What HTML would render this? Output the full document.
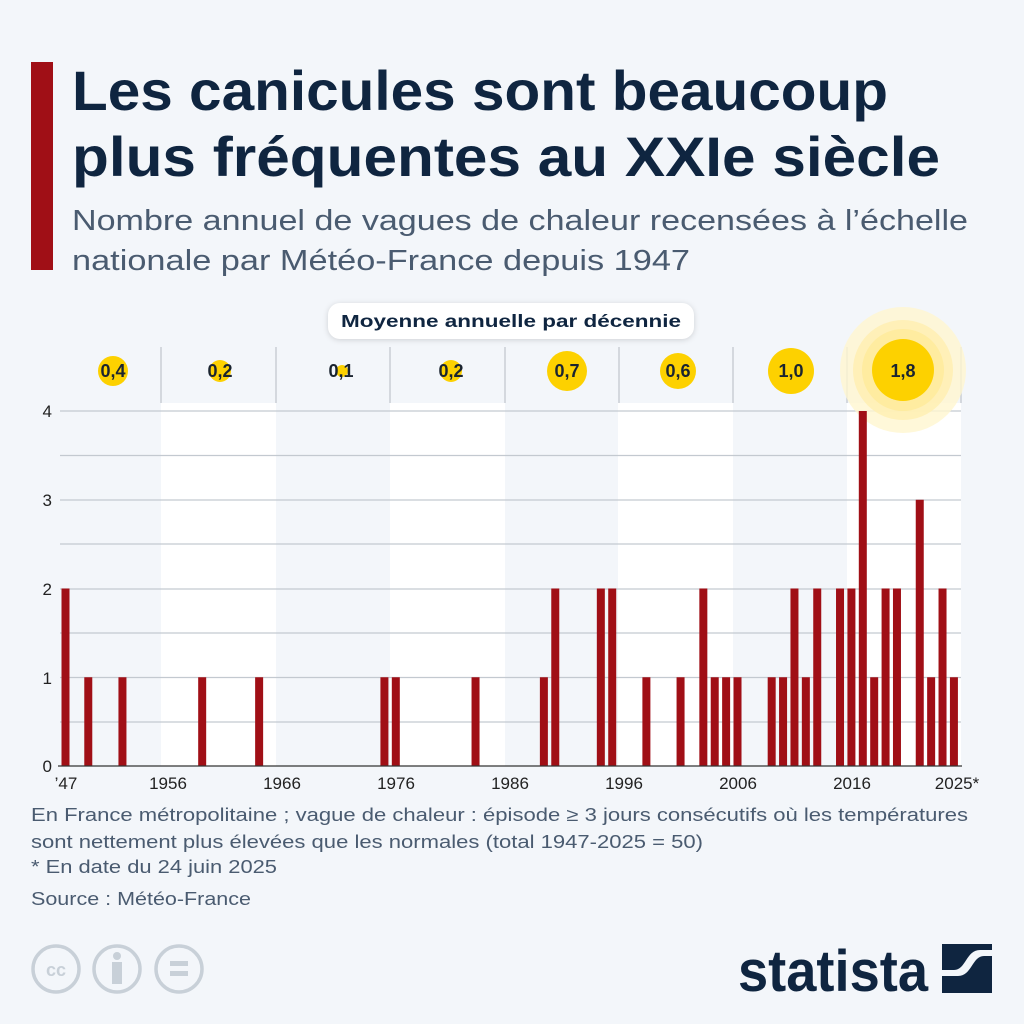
<!DOCTYPE html><html><head><meta charset="utf-8"><style>
body{margin:0;width:1024px;height:1024px;background:#f3f6fa;font-family:"Liberation Sans",sans-serif;position:relative;overflow:hidden}
</style></head><body>
<svg width="1024" height="1024" style="position:absolute;left:0;top:0" font-family="Liberation Sans, DejaVu Sans, sans-serif">
<rect x="31" y="62" width="22" height="208" fill="#a00f16"/>
<text x="72" y="110" font-size="56" font-weight="bold" fill="#0f2540" textLength="816" lengthAdjust="spacingAndGlyphs">Les canicules sont beaucoup</text>
<text x="72" y="176" font-size="56" font-weight="bold" fill="#0f2540" textLength="868" lengthAdjust="spacingAndGlyphs">plus fréquentes au XXIe siècle</text>
<text x="72" y="230" font-size="29" fill="#4a5b70" textLength="896" lengthAdjust="spacingAndGlyphs">Nombre annuel de vagues de chaleur recensées à l’échelle</text>
<text x="72" y="270" font-size="29" fill="#4a5b70" textLength="618" lengthAdjust="spacingAndGlyphs">nationale par Météo-France depuis 1947</text>
<rect x="161" y="403" width="115" height="363" fill="#fff"/>
<rect x="390" y="403" width="115" height="363" fill="#fff"/>
<rect x="618" y="403" width="115" height="363" fill="#fff"/>
<rect x="847" y="403" width="114" height="363" fill="#fff"/>
<g stroke="#c3c9d0" stroke-width="1.3">
<line x1="60" x2="961" y1="411" y2="411"/><line x1="60" x2="961" y1="455.5" y2="455.5"/><line x1="60" x2="961" y1="500" y2="500"/><line x1="60" x2="961" y1="544" y2="544"/><line x1="60" x2="961" y1="589" y2="589"/><line x1="60" x2="961" y1="633" y2="633"/><line x1="60" x2="961" y1="677.5" y2="677.5"/><line x1="60" x2="961" y1="722" y2="722"/>
<line x1="161" x2="161" y1="347" y2="403"/><line x1="276" x2="276" y1="347" y2="403"/><line x1="390" x2="390" y1="347" y2="403"/><line x1="505" x2="505" y1="347" y2="403"/><line x1="619" x2="619" y1="347" y2="403"/><line x1="733" x2="733" y1="347" y2="403"/><line x1="847" x2="847" y1="347" y2="403"/><line x1="961" x2="961" y1="347" y2="403"/>
</g>
<g font-size="17" fill="#222">
<text x="52" y="417" text-anchor="end">4</text><text x="52" y="506" text-anchor="end">3</text><text x="52" y="595" text-anchor="end">2</text><text x="52" y="684" text-anchor="end">1</text><text x="52" y="772" text-anchor="end">0</text>
</g>
<circle cx="903" cy="370" r="63" fill="#fff6d0" opacity="0.8"/>
<circle cx="903" cy="370" r="50" fill="#ffefb0" opacity="0.8"/>
<circle cx="903" cy="370" r="41" fill="#ffe98f" opacity="0.6"/>
<g fill="#fdd100">
<circle cx="113" cy="371" r="15"/><circle cx="220" cy="371" r="11"/><circle cx="342" cy="371" r="6"/><circle cx="451" cy="371" r="11"/><circle cx="567" cy="371" r="20"/><circle cx="678" cy="371" r="18"/><circle cx="791" cy="371" r="23"/><circle cx="903" cy="370" r="31"/>
</g>
<g font-size="18" font-weight="bold" fill="#1a2430" text-anchor="middle">
<text x="113" y="377">0,4</text><text x="220" y="377">0,2</text><text x="341" y="377">0,1</text><text x="451" y="377">0,2</text><text x="567" y="377">0,7</text><text x="678" y="377">0,6</text><text x="791" y="377">1,0</text><text x="903" y="377">1,8</text>
</g>
<rect x="328" y="303" width="366" height="36" rx="12" fill="#fff" style="filter:drop-shadow(0 1px 3px rgba(0,0,0,.15))"/>
<text x="511" y="327" font-size="17.5" font-weight="bold" fill="#0f2540" text-anchor="middle" textLength="340" lengthAdjust="spacingAndGlyphs">Moyenne annuelle par décennie</text>
<g id="bars" fill="#a00f16"></g>
<line x1="58" x2="962" y1="766" y2="766" stroke="#333" stroke-width="1.3"/>
<g font-size="17" fill="#222" text-anchor="middle">
<text x="66" y="789">’47</text><text x="168" y="789">1956</text><text x="282" y="789">1966</text><text x="396" y="789">1976</text><text x="510" y="789">1986</text><text x="624" y="789">1996</text><text x="738" y="789">2006</text><text x="852" y="789">2016</text><text x="957" y="789">2025*</text>
</g>
<g font-size="18.5" fill="#4a5b70">
<text x="31" y="821" textLength="937" lengthAdjust="spacingAndGlyphs">En France métropolitaine ; vague de chaleur : épisode ≥ 3 jours consécutifs où les températures</text>
<text x="31" y="848" textLength="672" lengthAdjust="spacingAndGlyphs">sont nettement plus élevées que les normales (total 1947-2025 = 50)</text>
<text x="31" y="873" textLength="246" lengthAdjust="spacingAndGlyphs">* En date du 24 juin 2025</text>
<text x="31" y="905" textLength="220" lengthAdjust="spacingAndGlyphs">Source : Météo-France</text>
</g>
<g fill="none" stroke="#c8d0d8" stroke-width="3.5">
<circle cx="56" cy="969" r="23"/><circle cx="117" cy="969" r="23"/><circle cx="179" cy="969" r="23"/>
</g>
<text x="56" y="976" font-size="18" font-weight="bold" fill="#c8d0d8" text-anchor="middle">cc</text>
<circle cx="117" cy="956" r="4" fill="#c8d0d8"/><rect x="112" y="962" width="10" height="22" fill="#c8d0d8"/>
<rect x="170" y="961" width="18" height="5" fill="#c8d0d8"/><rect x="170" y="971" width="18" height="5" fill="#c8d0d8"/>
<text x="738" y="991" font-size="58" font-weight="bold" fill="#0f2540" textLength="190" lengthAdjust="spacingAndGlyphs">statista</text>
<rect x="942" y="944" width="50" height="49" fill="#0f2540"/>
<path d="M942 976 L958 976 C972 976 972 956 984 956 L992 956 L992 950 L980 950 C966 950 966 970 954 970 L942 970Z" fill="#f3f6fa"/>
</svg>
<script>
var d={1947:2,1949:1,1952:1,1959:1,1964:1,1975:1,1976:1,1983:1,1989:1,1990:2,1994:2,1995:2,1998:1,2001:1,2003:2,2004:1,2005:1,2006:1,2009:1,2010:1,2011:2,2012:1,2013:2,2015:2,2016:2,2017:4,2018:1,2019:2,2020:2,2022:3,2023:1,2024:2,2025:1};
var g=document.getElementById('bars'),s='';
for(var y in d){var x=65.5+(y-1947)*11.39,h=d[y]*88.75;
s+='<rect x="'+(x-4)+'" y="'+(766-h)+'" width="8" height="'+h+'"/>';}
g.innerHTML=s;
</script>
</body></html>
